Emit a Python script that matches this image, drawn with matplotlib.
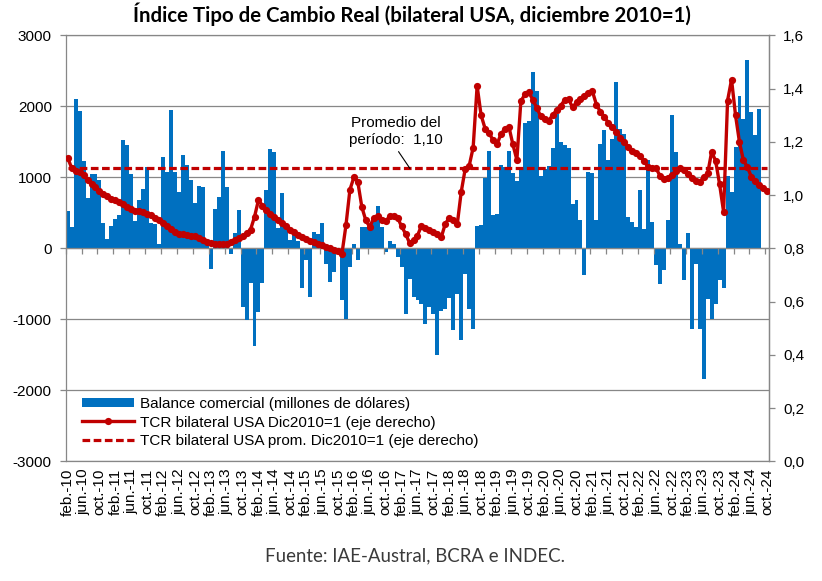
import matplotlib
matplotlib.use("Agg")
import matplotlib.pyplot as plt
import numpy as np
from matplotlib.patches import Patch
from matplotlib.lines import Line2D

# ---------------- data ----------------
tick_labels = []
for yy in range(10, 25):
    for mm in ["feb.", "jun.", "oct."]:
        tick_labels.append(f"{mm}-{yy:02d}")

# Balance comercial (millones de dólares), feb-10 .. ago-24
balance = [
    520, 300, 2100, 1940, 1230, 710, 1040, 1050, 960, 350, 130, 310,
    420, 470, 1520, 1450, 1050, 380, 680, 840, 1140, 350, 340, 60,
    1290, 1080, 1950, 1080, 800, 1310, 1170, 960, 640, 875, 870, 40,
    -285, 550, 720, 1375, 860, -75, 210, 535, -820, -1010, -490, -1380,
    -890, -490, 820, 1405, 1360, 280, 780, 270, 120, 230, 100, -565,
    -170, -690, 230, 205, 350, -215, -470, -330, -75, -730, -990, -260,
    65, -170, 300, 300, 320, 430, 600, 300, -50, 110, 65, -120,
    -260, -920, -430, -680, -730, -780, -1060, -820, -930, -1500, -880, -860,
    -700, -1150, -640, -1290, -355, -860, -1130, 315, 330, 990, 1370, 465,
    480, 1170, 1140, 1370, 1060, 955, 1140, 1760, 1790, 2480, 2220, 1025,
    1120, 1165, 1415, 1890, 1495, 1450, 1415, 620, 680, 395, -380, 1070,
    1060, 400, 1470, 1670, 1250, 1540, 2340, 1680, 1610, 440, 370, 300,
    825, 275, 1250, 370, -240, -500, -310, 395, 1880, 1355, 60, -450,
    215, -1130, -215, -1130, -1845, -710, -990, -780, -450, -565, 1025, 790,
    1425, 2150, 1820, 2650, 1915, 1590, 1960,
]

# TCR bilateral USA (Dic2010=1), feb-10 .. oct-24
tcr = [
    1.140, 1.102, 1.092, 1.086, 1.074, 1.057, 1.040, 1.030, 1.015, 1.005, 0.997, 0.986,
    0.980, 0.973, 0.965, 0.955, 0.947, 0.942, 0.942, 0.937, 0.930, 0.924, 0.915, 0.905,
    0.895, 0.882, 0.871, 0.861, 0.855, 0.852, 0.850, 0.848, 0.845, 0.840, 0.832, 0.825,
    0.820, 0.817, 0.816, 0.816, 0.818, 0.823, 0.832, 0.840, 0.846, 0.856, 0.870, 0.918,
    0.982, 0.960, 0.945, 0.930, 0.918, 0.905, 0.895, 0.882, 0.870, 0.860, 0.850, 0.842,
    0.835, 0.828, 0.822, 0.817, 0.812, 0.806, 0.800, 0.795, 0.789, 0.780, 0.886, 1.020,
    1.067, 1.048, 0.955, 0.905, 0.880, 0.915, 0.920, 0.905, 0.902, 0.920, 0.922, 0.915,
    0.882, 0.855, 0.820, 0.830, 0.848, 0.885, 0.875, 0.867, 0.861, 0.852, 0.842, 0.893,
    0.914, 0.905, 0.890, 1.012, 1.098, 1.110, 1.178, 1.410, 1.300, 1.250, 1.235, 1.205,
    1.190, 1.230, 1.248, 1.256, 1.190, 1.132, 1.352, 1.378, 1.386, 1.358, 1.328, 1.296,
    1.287, 1.280, 1.300, 1.320, 1.336, 1.356, 1.360, 1.330, 1.348, 1.362, 1.372, 1.384,
    1.390, 1.340, 1.313, 1.294, 1.271, 1.257, 1.238, 1.216, 1.198, 1.181, 1.167, 1.157,
    1.145, 1.128, 1.105, 1.100, 1.100, 1.073, 1.062, 1.065, 1.077, 1.090, 1.100, 1.095,
    1.080, 1.065, 1.054, 1.050, 1.068, 1.082, 1.163, 1.128, 1.040, 0.937, 1.355, 1.434,
    1.300, 1.198, 1.130, 1.105, 1.068, 1.052, 1.038, 1.025, 1.015,
]

tcr_avg = 1.10

left_ticks = [-3000, -2000, -1000, 0, 1000, 2000, 3000]
left_tick_labels = ["-3000", "-2000", "-1000", "0", "1000", "2000", "3000"]
right_ticks = [0.0, 0.2, 0.4, 0.6, 0.8, 1.0, 1.2, 1.4, 1.6]
right_tick_labels = ["0,0", "0,2", "0,4", "0,6", "0,8", "1,0", "1,2", "1,4", "1,6"]

series_names = [
    "Balance comercial (millones de dólares)",
    "TCR bilateral USA Dic2010=1 (eje derecho)",
    "TCR bilateral USA prom. Dic2010=1 (eje derecho)",
]
title = "Índice Tipo de Cambio Real (bilateral USA, diciembre 2010=1)"
source = "Fuente: IAE-Austral, BCRA e INDEC."
annot = "Promedio del\nperíodo:  1,10"

# ---------------- style ----------------
BLUE = "#0070C0"
RED = "#C00000"
GRID = "#878787"
AX_FONT = "Liberation Sans"
FS = 11

fig = plt.figure(figsize=(8.22, 5.81), dpi=100)
ax = fig.add_axes([0.0799, 0.2060, 0.8560, 0.7332])

n = len(tcr)
x = np.arange(n)
xb = np.arange(len(balance))

ax.bar(xb, balance, width=1.0, color=BLUE, linewidth=0, zorder=1)
ax.set_xlim(-0.5, n - 0.5)
ax.set_ylim(-3000, 3000)
ax.set_yticks(left_ticks)
ax.set_yticklabels(left_tick_labels, fontfamily=AX_FONT, fontsize=FS)
ax.yaxis.grid(True, color=GRID, lw=0.9)
ax.set_axisbelow(True)
for s in ["top", "bottom", "left", "right"]:
    ax.spines[s].set_color(GRID)
    ax.spines[s].set_linewidth(0.9)
ax.tick_params(axis="y", direction="out", length=4, width=0.9, color=GRID, pad=6)
ax.set_xticks(x[::4])
ax.set_xticklabels(tick_labels, rotation=90, fontfamily=AX_FONT, fontsize=FS,
                   va="top", ha="center")
ax.tick_params(axis="x", length=0, pad=5)

# category axis crossing at zero, with tick marks every 4 months
sec = ax.secondary_xaxis(0.4999)
sec.set_xticks(np.arange(-0.5, n, 4))
sec.tick_params(axis="x", length=4, width=0.9, color=GRID, direction="out",
                labelbottom=False, labeltop=False)
for s in sec.spines.values():
    s.set_color(GRID)
    s.set_linewidth(0.9)
sec.set_zorder(3)

# right axis
ax2 = ax.twinx()
ax2.set_ylim(0, 1.6)
ax2.set_yticks(right_ticks)
ax2.set_yticklabels(right_tick_labels, fontfamily=AX_FONT, fontsize=FS)
ax2.tick_params(axis="y", direction="out", length=4, width=0.9, color=GRID, pad=6)
for s in ["top", "bottom", "left"]:
    ax2.spines[s].set_visible(False)
ax2.spines["right"].set_color(GRID)
ax2.spines["right"].set_linewidth(0.9)

ax2.plot([x[0], x[-1]], [tcr_avg, tcr_avg], color=RED, lw=2.3,
         linestyle=(0, (2.4, 1.1)), zorder=2)
ax2.plot(x, tcr, color=RED, lw=2.4, marker="o", markersize=5.2,
         markeredgewidth=0, zorder=3)

ax2.annotate(annot, xy=(86.1, tcr_avg), xytext=(82.6, 1.240),
             ha="center", va="center", fontfamily=AX_FONT, fontsize=FS,
             linespacing=1.25,
             arrowprops=dict(arrowstyle="-", color="black", lw=0.8,
                             relpos=(0.49, 0.0), shrinkA=2, shrinkB=0))

handles = [
    Patch(facecolor=BLUE, edgecolor="none"),
    Line2D([], [], color=RED, lw=2.4, marker="o", markersize=5.2, markeredgewidth=0),
    Line2D([], [], color=RED, lw=2.3, linestyle=(0, (2.4, 1.1))),
]
leg = ax2.legend(handles, series_names, loc="upper left",
                 bbox_to_anchor=(0.0227, 0.151), frameon=False,
                 prop={"family": AX_FONT, "size": FS}, handlelength=3.4,
                 handletextpad=0.45, labelspacing=0.3, borderaxespad=0,
                 borderpad=0, numpoints=1, handleheight=0.6)

fig.text(0.5006, 0.975, title, ha="center", va="center", fontsize=14.7,
         fontweight="bold", fontfamily="Lato", color="black")
fig.text(0.505, 0.0440, source, ha="center", va="center", fontsize=13.4,
         fontfamily="Lato", color="#3a3a3a")

fig.savefig("out.png", dpi=100)
